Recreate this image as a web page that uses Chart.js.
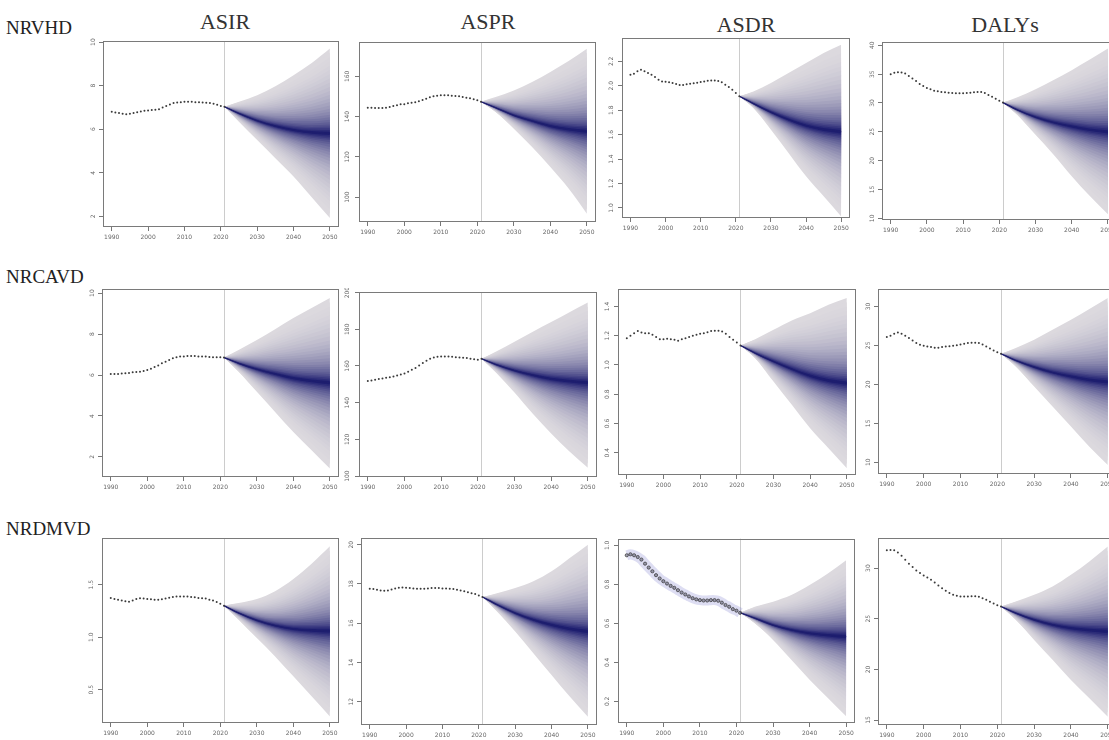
<!DOCTYPE html>
<html><head><meta charset="utf-8">
<script src="https://cdn.jsdelivr.net/npm/chart.js@4.4.1/dist/chart.umd.min.js"></script>
<style>
html,body{margin:0;padding:0;background:#fff;overflow:hidden;}
#wrap{position:relative;width:1109px;height:740px;overflow:hidden;background:#fff;}
canvas{position:absolute;}
.col{position:absolute;font-family:"Liberation Serif","Times New Roman",serif;font-size:22px;line-height:22px;color:#333;transform:translateX(-50%);white-space:nowrap;}
.row{position:absolute;font-family:"Liberation Serif","Times New Roman",serif;font-size:19px;line-height:19px;color:#222;white-space:nowrap;}
</style></head><body><div id="wrap"></div>
<script>
// ---------- data ----------
const obsYears = [1990,1991,1992,1993,1994,1995,1996,1997,1998,1999,2000,2001,2002,2003,2004,2005,2006,2007,2008,2009,2010,2011,2012,2013,2014,2015,2016,2017,2018,2019,2020,2021];
const fcYears = [2021,2025,2030,2035,2040,2045,2050];
const xTicks = [1990,2000,2010,2020,2030,2040,2050];
const diseases = ["NRVHD","NRCAVD","NRDMVD"];
const measures = ["ASIR","ASPR","ASDR","DALYs"];

// NRVHD
const nrvhdAsirObs = [6.80,6.77,6.74,6.71,6.69,6.71,6.74,6.78,6.81,6.85,6.86,6.88,6.89,6.92,7.00,7.06,7.13,7.20,7.23,7.24,7.26,7.26,7.26,7.24,7.24,7.23,7.21,7.20,7.17,7.12,7.07,7.03];
const nrvhdAsirMed = [7.03,6.72,6.39,6.14,5.96,5.85,5.81];
const nrvhdAsirHi  = [7.03,7.26,7.56,7.97,8.48,9.04,9.70];
const nrvhdAsirLo  = [7.03,6.34,5.50,4.67,3.83,2.88,1.92];
const nrvhdAsirTicks = [2,4,6,8,10];

const nrvhdAsprObs = [144.4,144.4,144.3,144.3,144.3,144.4,144.8,145.3,145.7,146.1,146.2,146.6,146.9,147.2,147.7,148.2,148.9,149.6,150.1,150.4,150.6,150.6,150.6,150.4,150.2,150.1,149.7,149.4,149.1,148.6,148.1,147.4];
const nrvhdAsprMed = [147.4,144.4,140.6,137.8,135.3,133.7,132.7];
const nrvhdAsprHi  = [147.4,149.7,153.0,157.2,162.2,167.6,173.8];
const nrvhdAsprLo  = [147.4,142.3,134.0,124.9,114.9,104.2,91.7];
const nrvhdAsprTicks = [100,120,140,160];

const nrvhdAsdrObs = [2.091,2.099,2.118,2.132,2.118,2.105,2.091,2.072,2.050,2.036,2.034,2.028,2.023,2.014,2.006,2.006,2.012,2.017,2.020,2.025,2.031,2.036,2.042,2.044,2.044,2.039,2.028,2.009,1.990,1.968,1.941,1.914];
const nrvhdAsdrMed = [1.914,1.854,1.783,1.723,1.673,1.641,1.624];
const nrvhdAsdrHi  = [1.914,1.954,2.023,2.105,2.186,2.268,2.336];
const nrvhdAsdrLo  = [1.914,1.818,1.641,1.450,1.259,1.095,0.931];
const nrvhdAsdrTicks = [1.0,1.2,1.4,1.6,1.8,2.0,2.2];

const nrvhdDalysObs = [35.00,35.23,35.34,35.29,35.12,34.66,34.25,33.79,33.28,32.93,32.59,32.36,32.13,32.01,31.90,31.84,31.78,31.72,31.67,31.67,31.67,31.72,31.78,31.84,31.90,31.90,31.72,31.38,31.09,30.75,30.40,30.06];
const nrvhdDalysMed = [30.06,28.79,27.53,26.61,25.92,25.35,25.00];
const nrvhdDalysHi  = [30.06,30.98,32.36,33.97,35.69,37.53,39.43];
const nrvhdDalysLo  = [30.06,27.93,24.48,21.03,17.30,13.85,10.69];
const nrvhdDalysTicks = [10,15,20,25,30,35,40];

// NRCAVD
const nrcavdAsirObs = [6.05,6.05,6.05,6.07,6.08,6.10,6.13,6.15,6.16,6.20,6.24,6.31,6.39,6.47,6.57,6.65,6.73,6.82,6.87,6.90,6.91,6.93,6.93,6.93,6.91,6.91,6.90,6.88,6.87,6.87,6.87,6.85];
const nrcavdAsirMed = [6.85,6.57,6.28,6.05,5.84,5.71,5.62];
const nrcavdAsirHi  = [6.85,7.22,7.71,8.24,8.78,9.27,9.76];
const nrcavdAsirLo  = [6.85,6.16,5.18,4.20,3.22,2.33,1.43];
const nrcavdAsirTicks = [2,4,6,8,10];

const nrcavdAsprObs = [151.8,152.1,152.5,152.9,153.2,153.6,153.9,154.3,154.8,155.4,155.9,156.8,157.9,158.9,160.2,161.6,162.9,163.9,164.6,165.0,165.2,165.2,165.2,165.0,164.8,164.6,164.5,164.3,163.9,163.6,163.4,163.9];
const nrcavdAsprMed = [163.9,160.7,157.5,155.0,153.0,151.8,150.9];
const nrcavdAsprHi  = [163.9,167.9,173.2,178.6,183.9,189.3,194.6];
const nrcavdAsprLo  = [163.9,156.3,145.5,133.9,123.2,113.4,104.5];
const nrcavdAsprTicks = [100,120,140,160,180,200];

const nrcavdAsdrObs = [1.183,1.199,1.217,1.231,1.222,1.217,1.217,1.206,1.190,1.176,1.176,1.179,1.176,1.172,1.165,1.176,1.183,1.190,1.199,1.206,1.213,1.217,1.224,1.231,1.233,1.233,1.229,1.213,1.190,1.172,1.153,1.133];
const nrcavdAsdrMed = [1.133,1.080,1.023,0.971,0.925,0.893,0.875];
const nrcavdAsdrHi  = [1.133,1.176,1.240,1.304,1.354,1.411,1.457];
const nrcavdAsdrLo  = [1.133,1.046,0.886,0.727,0.567,0.430,0.293];
const nrcavdAsdrTicks = [0.4,0.6,0.8,1.0,1.2,1.4];

const nrcavdDalysObs = [26.06,26.23,26.49,26.66,26.49,26.23,25.93,25.63,25.29,25.08,24.95,24.86,24.78,24.69,24.69,24.78,24.86,24.90,24.95,25.03,25.12,25.20,25.29,25.33,25.33,25.29,25.12,24.86,24.60,24.35,24.13,23.92];
const nrcavdDalysMed = [23.92,23.06,22.21,21.52,21.01,20.58,20.32];
const nrcavdDalysHi  = [23.92,24.65,25.72,27.00,28.29,29.66,31.07];
const nrcavdDalysLo  = [23.92,22.29,19.72,17.15,14.58,12.01,9.66];
const nrcavdDalysTicks = [10,15,20,25,30];

// NRDMVD
const nrdmvdAsirObs = [1.373,1.363,1.357,1.348,1.341,1.338,1.348,1.363,1.370,1.367,1.363,1.360,1.357,1.357,1.360,1.367,1.376,1.383,1.386,1.386,1.386,1.386,1.383,1.379,1.373,1.370,1.367,1.357,1.348,1.335,1.319,1.300];
const nrdmvdAsirMed = [1.300,1.230,1.160,1.110,1.078,1.065,1.059];
const nrdmvdAsirHi  = [1.300,1.325,1.363,1.437,1.554,1.700,1.865];
const nrdmvdAsirLo  = [1.300,1.167,0.992,0.817,0.627,0.437,0.246];
const nrdmvdAsirTicks = [0.5,1.0,1.5];

const nrdmvdAsprObs = [17.75,17.74,17.70,17.67,17.65,17.67,17.72,17.77,17.80,17.82,17.80,17.79,17.77,17.75,17.75,17.75,17.77,17.79,17.79,17.79,17.77,17.77,17.75,17.74,17.70,17.67,17.62,17.58,17.53,17.48,17.41,17.33];
const nrdmvdAsprMed = [17.33,16.94,16.51,16.17,15.91,15.71,15.57];
const nrdmvdAsprHi  = [17.33,17.53,17.79,18.13,18.64,19.32,20.00];
const nrdmvdAsprLo  = [17.33,16.60,15.57,14.47,13.36,12.26,11.23];
const nrdmvdAsprTicks = [12,14,16,18,20];

const nrdmvdAsdrObs = [0.949,0.954,0.949,0.940,0.927,0.906,0.886,0.867,0.847,0.830,0.816,0.804,0.792,0.782,0.770,0.758,0.748,0.738,0.729,0.723,0.719,0.717,0.717,0.719,0.719,0.716,0.706,0.694,0.685,0.673,0.665,0.654];
const nrdmvdAsdrMed = [0.654,0.626,0.591,0.566,0.549,0.539,0.532];
const nrdmvdAsdrHi  = [0.654,0.685,0.711,0.745,0.796,0.855,0.923];
const nrdmvdAsdrLo  = [0.654,0.600,0.515,0.413,0.311,0.217,0.123];
const nrdmvdAsdrTicks = [0.2,0.4,0.6,0.8,1.0];

const nrdmvdDalysObs = [31.75,31.78,31.75,31.55,31.22,30.82,30.43,30.10,29.77,29.51,29.27,29.08,28.85,28.58,28.29,28.02,27.76,27.53,27.36,27.26,27.20,27.20,27.20,27.23,27.23,27.17,27.03,26.87,26.67,26.51,26.34,26.21];
const nrdmvdDalysMed = [26.21,25.55,24.89,24.40,24.07,23.87,23.74];
const nrdmvdDalysHi  = [26.21,26.70,27.36,28.19,29.34,30.66,32.14];
const nrdmvdDalysLo  = [26.21,24.89,22.91,20.94,18.96,17.15,15.33];
const nrdmvdDalysTicks = [15,20,25,30];

// ---------- layout / style ----------
const X_MIN = 1987.6, X_MAX = 2052.5, VLINE = 2021;
const fanLevels = [1,0.95,0.9,0.85,0.8,0.75,0.7,0.65,0.6,0.55,0.5,0.455,0.41,0.37,0.33,0.29,0.255,0.22,0.19,0.16,0.13,0.105,0.08,0.06,0.04,0.02];
const panels = [
  {obs:nrvhdAsirObs, med:nrvhdAsirMed, hi:nrvhdAsirHi, lo:nrvhdAsirLo, ticks:nrvhdAsirTicks, dec:0, frame:[103,41,339,227], y:[1.51,10.05]},
  {obs:nrvhdAsprObs, med:nrvhdAsprMed, hi:nrvhdAsprHi, lo:nrvhdAsprLo, ticks:nrvhdAsprTicks, dec:0, frame:[359,42,596,222], y:[87.6,177.1]},
  {obs:nrvhdAsdrObs, med:nrvhdAsdrMed, hi:nrvhdAsdrHi, lo:nrvhdAsdrLo, ticks:nrvhdAsdrTicks, dec:1, frame:[622,38,850,218], y:[0.918,2.391]},
  {obs:nrvhdDalysObs, med:nrvhdDalysMed, hi:nrvhdDalysHi, lo:nrvhdDalysLo, ticks:nrvhdDalysTicks, dec:0, frame:[882,42,1117,220], y:[9.71,40.57]},
  {obs:nrcavdAsirObs, med:nrcavdAsirMed, hi:nrcavdAsirHi, lo:nrcavdAsirLo, ticks:nrcavdAsirTicks, dec:0, frame:[102,289,339,477], y:[1.02,10.20]},
  {obs:nrcavdAsprObs, med:nrcavdAsprMed, hi:nrcavdAsprHi, lo:nrcavdAsprLo, ticks:nrcavdAsprTicks, dec:0, frame:[359,292,597,477], y:[99.5,200.3]},
  {obs:nrcavdAsdrObs, med:nrcavdAsdrMed, hi:nrcavdAsdrHi, lo:nrcavdAsdrLo, ticks:nrcavdAsdrTicks, dec:1, frame:[618,289,856,475], y:[0.247,1.519]},
  {obs:nrcavdDalysObs, med:nrcavdDalysMed, hi:nrcavdDalysHi, lo:nrcavdDalysLo, ticks:nrcavdDalysTicks, dec:0, frame:[878,289,1117,474], y:[8.50,32.23]},
  {obs:nrdmvdAsirObs, med:nrdmvdAsirMed, hi:nrdmvdAsirHi, lo:nrdmvdAsirLo, ticks:nrdmvdAsirTicks, dec:1, frame:[102,538,339,723], y:[0.183,1.944]},
  {obs:nrdmvdAsprObs, med:nrdmvdAsprMed, hi:nrdmvdAsprHi, lo:nrdmvdAsprLo, ticks:nrdmvdAsprTicks, dec:0, frame:[361,538,597,725], y:[10.81,20.34]},
  {obs:nrdmvdAsdrObs, med:nrdmvdAsdrMed, hi:nrdmvdAsdrHi, lo:nrdmvdAsdrLo, ticks:nrdmvdAsdrTicks, dec:1, frame:[618,538,856,723], y:[0.089,1.034], halo:true},
  {obs:nrdmvdDalysObs, med:nrdmvdDalysMed, hi:nrdmvdDalysHi, lo:nrdmvdDalysLo, ticks:nrdmvdDalysTicks, dec:0, frame:[878,538,1117,725], y:[14.51,32.97]}
];
const colTitles = [{x:225,top:11},{x:488,top:11},{x:746,top:14},{x:1005,top:14}];
const rowTitles = [{left:6,top:18},{left:6,top:267},{left:6,top:519}];

const wrap = document.getElementById('wrap');
measures.forEach((m,i)=>{
  const d=document.createElement('div'); d.className='col'; d.textContent=m;
  d.style.left=colTitles[i].x+'px'; d.style.top=colTitles[i].top+'px'; wrap.appendChild(d);
});
diseases.forEach((m,i)=>{
  const d=document.createElement('div'); d.className='row'; d.textContent=m;
  d.style.left=rowTitles[i].left+'px'; d.style.top=rowTitles[i].top+'px'; wrap.appendChild(d);
});

function fanColor(i){
  const t = Math.pow(i/(fanLevels.length-1), 1.9);
  const o=[220,217,222], n=[30,30,112];
  const c=o.map((v,k)=>Math.round(v+(n[k]-v)*t));
  return `rgb(${c[0]},${c[1]},${c[2]})`;
}

const framePlugin = {
  id:'frame',
  beforeDatasetsDraw(chart){
    const {ctx, chartArea:a, scales:{x}} = chart;
    const px = Math.round(x.getPixelForValue(VLINE))+0.5;
    ctx.save(); ctx.strokeStyle='#cccccc'; ctx.lineWidth=1;
    ctx.beginPath(); ctx.moveTo(px,a.top); ctx.lineTo(px,a.bottom); ctx.stroke(); ctx.restore();
  },
  afterDraw(chart){
    const {ctx, chartArea:a} = chart;
    ctx.save(); ctx.strokeStyle='#7a7a7a'; ctx.lineWidth=1;
    ctx.strokeRect(Math.round(a.left)+0.5, Math.round(a.top)+0.5, Math.round(a.width)-1, Math.round(a.height)-1);
    ctx.restore();
  }
};

const YW=20, XH=22, PT=4, PR=4;
panels.forEach(p=>{
  const [l,t,r,b]=p.frame;
  const w=r-l+YW+PR, h=b-t+PT+XH;
  const c=document.createElement('canvas');
  c.width=w; c.height=h; c.style.width=w+'px'; c.style.height=h+'px';
  c.style.left=(l-YW)+'px'; c.style.top=(t-PT)+'px';
  wrap.appendChild(c);
  const ds=[];
  ds.push({data:p.obs.map((v,i)=>({x:obsYears[i],y:v})), showLine:false, pointRadius:p.halo?1.6:1.0,
    pointBackgroundColor:p.halo?'rgba(80,80,100,0.5)':'#3a3a3a', pointBorderColor:p.halo?'#333':'#3a3a3a', pointBorderWidth:p.halo?0.7:0, order:0});
  if(p.halo){
    ds.push({data:p.obs.map((v,i)=>({x:obsYears[i],y:v})), borderColor:'rgba(120,120,205,0.25)', borderWidth:10,
      pointRadius:0, fill:false, tension:0.3, order:2});
  }
  ds.push({data:p.med.map((v,i)=>({x:fcYears[i],y:v})), borderColor:'#1e1e6e', borderWidth:1.2, pointRadius:0,
    fill:false, cubicInterpolationMode:'monotone', order:1});
  fanLevels.forEach((f,i)=>{
    ds.push({data:p.med.map((m,j)=>({x:fcYears[j],y:m+f*(p.hi[j]-m)})), borderWidth:0, borderColor:'transparent',
      pointRadius:0, backgroundColor:fanColor(i), fill:'+1', cubicInterpolationMode:'monotone', order:100-i});
    ds.push({data:p.med.map((m,j)=>({x:fcYears[j],y:m+f*(p.lo[j]-m)})), borderWidth:0, borderColor:'transparent',
      pointRadius:0, fill:false, cubicInterpolationMode:'monotone', order:100-i});
  });
  new Chart(c,{
    type:'line',
    data:{datasets:ds},
    plugins:[framePlugin],
    options:{
      responsive:false, animation:false, devicePixelRatio:1,
      layout:{padding:{top:PT,right:PR,left:0,bottom:0}},
      plugins:{legend:{display:false}, tooltip:{enabled:false}},
      scales:{
        x:{type:'linear', min:X_MIN, max:X_MAX,
          afterBuildTicks:s=>{s.ticks=xTicks.map(v=>({value:v}));},
          afterFit:s=>{s.height=XH; s.paddingLeft=0; s.paddingRight=0;},
          grid:{display:true, drawOnChartArea:false, drawTicks:true, tickLength:4, color:'#777', tickColor:'#777'},
          border:{display:false},
          ticks:{font:{size:6, family:'DejaVu Sans'}, color:'#666', padding:3, minRotation:0, maxRotation:0, autoSkip:false,
            callback:v=>String(v)}},
        y:{type:'linear', min:p.y[0], max:p.y[1],
          afterBuildTicks:s=>{s.ticks=p.ticks.map(v=>({value:v}));},
          afterFit:s=>{s.width=YW; s.paddingTop=0; s.paddingBottom=0;},
          grid:{display:true, drawOnChartArea:false, drawTicks:true, tickLength:4, color:'#777', tickColor:'#777'},
          border:{display:false},
          ticks:{font:{size:6, family:'DejaVu Sans'}, color:'#666', padding:2, minRotation:90, maxRotation:90,
            crossAlign:'center', autoSkip:false, callback:v=>Number(v).toFixed(p.dec)}}
      }
    }
  });
});
</script></body></html>
